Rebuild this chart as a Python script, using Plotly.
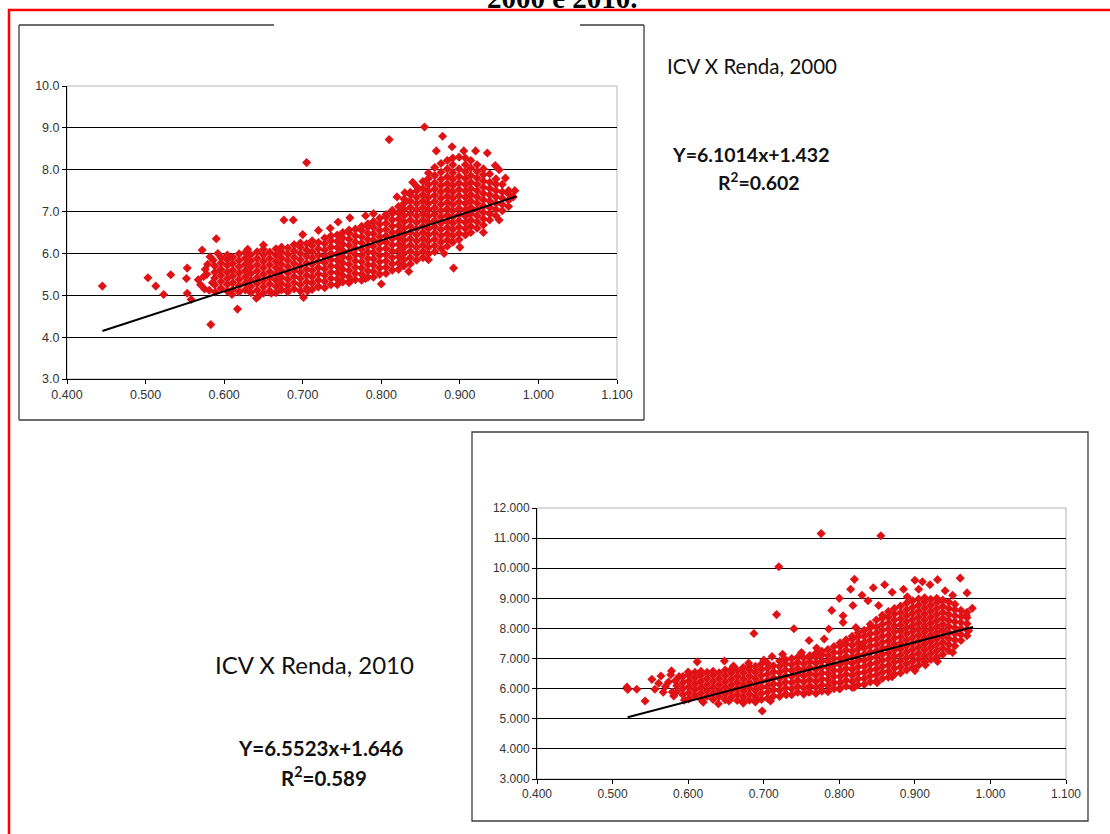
import plotly.graph_objects as go

W, H = 1110, 834

# ---------------- 2000 : ICV x Renda ----------------
x2000_cols = [0.588, 0.596, 0.604, 0.611, 0.619, 0.627, 0.634, 0.642, 0.650, 0.658,
              0.666, 0.673, 0.681, 0.689, 0.697, 0.705, 0.712, 0.720, 0.728, 0.736,
              0.744, 0.751, 0.759, 0.767, 0.775, 0.783, 0.790, 0.798, 0.806, 0.814,
              0.822, 0.829, 0.837, 0.845, 0.853, 0.860, 0.868, 0.876, 0.884, 0.891,
              0.899, 0.907, 0.914, 0.922, 0.930, 0.938, 0.946, 0.954, 0.962]
y2000_cols = [
    [5.25, 5.41, 5.55, 5.70],
    [5.17, 5.33, 5.48, 5.62, 5.77, 5.90],
    [5.10, 5.26, 5.40, 5.55, 5.71, 5.85, 5.96],
    [5.14, 5.30, 5.46, 5.60, 5.76, 5.91],
    [5.08, 5.23, 5.38, 5.53, 5.68, 5.83, 5.99],
    [5.13, 5.29, 5.44, 5.59, 5.74, 5.89, 6.02],
    [5.06, 5.21, 5.36, 5.52, 5.67, 5.82, 5.97],
    [5.12, 5.28, 5.43, 5.58, 5.73, 5.88, 6.04],
    [5.05, 5.20, 5.35, 5.50, 5.66, 5.81, 5.96, 6.10],
    [5.11, 5.27, 5.42, 5.57, 5.73, 5.88, 6.03],
    [5.06, 5.21, 5.36, 5.51, 5.66, 5.81, 5.96, 6.11],
    [5.13, 5.28, 5.43, 5.59, 5.74, 5.89, 6.04, 6.15],
    [5.08, 5.23, 5.38, 5.53, 5.68, 5.83, 5.98, 6.13],
    [5.15, 5.30, 5.45, 5.60, 5.76, 5.91, 6.06, 6.21],
    [5.10, 5.25, 5.40, 5.55, 5.70, 5.85, 6.00, 6.15, 6.25],
    [5.17, 5.32, 5.47, 5.62, 5.77, 5.93, 6.08, 6.23],
    [5.14, 5.29, 5.44, 5.59, 5.74, 5.89, 6.04, 6.19, 6.30],
    [5.21, 5.36, 5.51, 5.66, 5.81, 5.96, 6.11, 6.26],
    [5.18, 5.33, 5.48, 5.63, 5.78, 5.93, 6.08, 6.23, 6.37],
    [5.25, 5.40, 5.55, 5.70, 5.85, 6.00, 6.15, 6.30, 6.42],
    [5.25, 5.39, 5.54, 5.69, 5.84, 5.99, 6.14, 6.29, 6.44],
    [5.32, 5.47, 5.62, 5.77, 5.92, 6.07, 6.22, 6.37, 6.50],
    [5.30, 5.44, 5.59, 5.74, 5.89, 6.04, 6.19, 6.34, 6.49, 6.56],
    [5.37, 5.52, 5.67, 5.82, 5.97, 6.12, 6.27, 6.42, 6.58],
    [5.36, 5.50, 5.65, 5.80, 5.95, 6.10, 6.25, 6.40, 6.55, 6.65],
    [5.43, 5.58, 5.73, 5.88, 6.03, 6.18, 6.33, 6.48, 6.63, 6.71],
    [5.43, 5.57, 5.72, 5.87, 6.02, 6.17, 6.32, 6.47, 6.62, 6.76],
    [5.50, 5.65, 5.80, 5.95, 6.10, 6.25, 6.40, 6.55, 6.70, 6.84],
    [5.52, 5.67, 5.82, 5.97, 6.12, 6.27, 6.42, 6.57, 6.72, 6.87, 6.93],
    [5.60, 5.75, 5.90, 6.05, 6.20, 6.35, 6.50, 6.65, 6.80, 6.95, 7.03],
    [5.62, 5.77, 5.92, 6.07, 6.22, 6.37, 6.52, 6.67, 6.82, 6.97, 7.12],
    [5.70, 5.85, 6.00, 6.15, 6.30, 6.45, 6.60, 6.75, 6.90, 7.05, 7.20, 7.30],
    [5.75, 5.90, 6.05, 6.20, 6.35, 6.50, 6.65, 6.80, 6.95, 7.10, 7.25, 7.40, 7.46],
    [5.84, 5.99, 6.14, 6.29, 6.44, 6.59, 6.74, 6.89, 7.04, 7.19, 7.34, 7.49, 7.60],
    [5.90, 6.05, 6.20, 6.35, 6.50, 6.65, 6.80, 6.95, 7.10, 7.25, 7.40, 7.55, 7.72],
    [5.99, 6.14, 6.29, 6.44, 6.59, 6.74, 6.89, 7.04, 7.19, 7.34, 7.49, 7.64, 7.79, 7.92],
    [6.04, 6.19, 6.34, 6.49, 6.64, 6.79, 6.94, 7.09, 7.24, 7.39, 7.54, 7.69, 7.86, 8.05],
    [6.12, 6.27, 6.42, 6.57, 6.72, 6.87, 7.02, 7.17, 7.32, 7.47, 7.62, 7.77, 7.94, 8.15],
    [6.17, 6.32, 6.47, 6.62, 6.77, 6.92, 7.07, 7.22, 7.37, 7.52, 7.67, 7.83, 8.02, 8.22],
    [6.27, 6.42, 6.57, 6.72, 6.87, 7.02, 7.17, 7.32, 7.47, 7.62, 7.77, 7.93, 8.12, 8.28],
    [6.33, 6.48, 6.63, 6.78, 6.93, 7.08, 7.23, 7.38, 7.53, 7.68, 7.84, 8.02, 8.30],
    [6.44, 6.59, 6.74, 6.89, 7.04, 7.19, 7.34, 7.49, 7.64, 7.79, 7.95, 8.12, 8.28],
    [6.50, 6.65, 6.80, 6.95, 7.10, 7.25, 7.40, 7.55, 7.70, 7.86, 8.04, 8.22],
    [6.60, 6.75, 6.90, 7.05, 7.20, 7.35, 7.50, 7.65, 7.80, 7.96, 8.12],
    [6.68, 6.83, 6.98, 7.13, 7.28, 7.43, 7.58, 7.73, 7.88, 8.02],
    [6.80, 6.95, 7.10, 7.25, 7.40, 7.55, 7.70, 7.90],
    [6.90, 7.05, 7.20, 7.35, 7.50, 7.65, 7.78],
    [7.02, 7.17, 7.32, 7.47, 7.65],
    [7.12, 7.27, 7.42, 7.50],
]
x2000_out = [0.445, 0.503, 0.513, 0.523, 0.532, 0.552, 0.553, 0.553, 0.558, 0.567,
             0.570, 0.572, 0.575, 0.579, 0.583, 0.585, 0.590, 0.595, 0.617, 0.610,
             0.641, 0.644, 0.630, 0.676, 0.688, 0.701, 0.706, 0.705, 0.720, 0.745,
             0.760, 0.800, 0.810, 0.835, 0.855, 0.878, 0.892, 0.870, 0.890, 0.905,
             0.920, 0.935, 0.945, 0.950, 0.958, 0.968, 0.970, 0.840, 0.830, 0.820,
             0.790, 0.780, 0.860, 0.880, 0.900, 0.930, 0.950, 0.660, 0.680, 0.720,
             0.760, 0.780, 0.650, 0.700, 0.735, 0.578, 0.582, 0.576, 0.581, 0.586,
             0.574, 0.589, 0.592]
y2000_out = [5.22, 5.42, 5.22, 5.02, 5.49, 5.40, 5.65, 5.05, 4.90, 5.37,
             5.25, 6.08, 5.15, 5.74, 4.30, 5.30, 6.35, 5.60, 4.67, 5.02,
             4.93, 4.98, 6.10, 6.80, 6.80, 4.95, 5.10, 8.17, 6.55, 6.75,
             6.85, 5.27, 8.72, 5.57, 9.02, 8.80, 5.65, 8.45, 8.55, 8.45,
             8.45, 8.40, 8.10, 8.00, 7.80, 7.35, 7.50, 7.70, 7.45, 7.35,
             6.95, 6.90, 5.85, 6.00, 6.15, 6.50, 6.80, 5.05, 5.12, 5.20,
             5.35, 5.40, 6.20, 6.45, 6.60, 5.50, 5.92, 5.62, 5.12, 5.84,
             5.45, 5.08, 6.00]
slope2000, icpt2000 = 6.1014, 1.432
trend2000_x = [0.445, 0.972]

# ---------------- 2010 ----------------
x2010_cols = [0.585, 0.593, 0.601, 0.609, 0.617, 0.625, 0.633, 0.641, 0.649, 0.657,
              0.665, 0.673, 0.681, 0.689, 0.697, 0.705, 0.713, 0.721, 0.729, 0.737,
              0.745, 0.753, 0.761, 0.769, 0.777, 0.785, 0.793, 0.801, 0.809, 0.817,
              0.825, 0.833, 0.841, 0.849, 0.857, 0.865, 0.873, 0.881, 0.889, 0.897,
              0.905, 0.913, 0.921, 0.929, 0.937, 0.945, 0.953, 0.961, 0.969]
y2010_cols = [
    [5.90, 6.10],
    [5.80, 6.00, 6.20, 6.40],
    [5.66, 5.86, 6.06, 6.26, 6.45],
    [5.76, 5.96, 6.16, 6.36, 6.54],
    [5.65, 5.85, 6.05, 6.25, 6.45, 6.58],
    [5.74, 5.94, 6.14, 6.34, 6.54],
    [5.64, 5.84, 6.04, 6.24, 6.44, 6.58],
    [5.73, 5.93, 6.13, 6.33, 6.53],
    [5.63, 5.83, 6.03, 6.23, 6.43, 6.62],
    [5.72, 5.92, 6.12, 6.32, 6.52, 6.64],
    [5.61, 5.81, 6.01, 6.21, 6.41, 6.61],
    [5.56, 5.72, 5.92, 6.12, 6.32, 6.52, 6.70],
    [5.62, 5.82, 6.02, 6.22, 6.42, 6.62, 6.74],
    [5.56, 5.74, 5.94, 6.14, 6.34, 6.54, 6.74],
    [5.64, 5.84, 6.04, 6.24, 6.44, 6.64, 6.82],
    [5.68, 5.88, 6.08, 6.28, 6.48, 6.68, 6.85],
    [5.76, 5.96, 6.16, 6.36, 6.56, 6.76],
    [5.74, 5.94, 6.14, 6.34, 6.54, 6.74, 6.92],
    [5.82, 6.02, 6.22, 6.42, 6.62, 6.82, 6.96],
    [5.80, 6.00, 6.20, 6.40, 6.60, 6.80, 7.00],
    [5.88, 6.08, 6.28, 6.48, 6.68, 6.88, 7.04],
    [5.82, 6.02, 6.22, 6.42, 6.62, 6.82, 7.02],
    [5.90, 6.10, 6.30, 6.50, 6.70, 6.90, 7.10],
    [5.84, 6.04, 6.24, 6.44, 6.64, 6.84, 7.04, 7.18],
    [5.92, 6.12, 6.32, 6.52, 6.72, 6.92, 7.12, 7.24],
    [5.90, 6.10, 6.30, 6.50, 6.70, 6.90, 7.10, 7.30],
    [6.00, 6.20, 6.40, 6.60, 6.80, 7.00, 7.20, 7.40],
    [6.00, 6.20, 6.40, 6.60, 6.80, 7.00, 7.20, 7.40, 7.52],
    [6.08, 6.28, 6.48, 6.68, 6.88, 7.08, 7.28, 7.48, 7.62],
    [6.04, 6.24, 6.44, 6.64, 6.84, 7.04, 7.24, 7.44, 7.64, 7.74],
    [6.12, 6.32, 6.52, 6.72, 6.92, 7.12, 7.32, 7.52, 7.72, 7.86],
    [6.14, 6.34, 6.54, 6.74, 6.94, 7.14, 7.34, 7.54, 7.74, 7.94],
    [6.22, 6.42, 6.62, 6.82, 7.02, 7.22, 7.42, 7.62, 7.82, 8.02, 8.14],
    [6.25, 6.45, 6.65, 6.85, 7.05, 7.25, 7.45, 7.65, 7.85, 8.05, 8.28],
    [6.34, 6.54, 6.74, 6.94, 7.14, 7.34, 7.54, 7.74, 7.94, 8.14, 8.34, 8.44],
    [6.38, 6.58, 6.78, 6.98, 7.18, 7.38, 7.58, 7.78, 7.98, 8.18, 8.38, 8.56],
    [6.48, 6.68, 6.88, 7.08, 7.28, 7.48, 7.68, 7.88, 8.08, 8.28, 8.48, 8.66],
    [6.52, 6.72, 6.92, 7.12, 7.32, 7.52, 7.72, 7.92, 8.12, 8.32, 8.52, 8.74],
    [6.62, 6.82, 7.02, 7.22, 7.42, 7.62, 7.82, 8.02, 8.22, 8.42, 8.62, 8.84],
    [6.70, 6.90, 7.10, 7.30, 7.50, 7.70, 7.90, 8.10, 8.30, 8.50, 8.70, 8.92],
    [6.78, 6.98, 7.18, 7.38, 7.58, 7.78, 7.98, 8.18, 8.38, 8.58, 8.78, 8.98],
    [6.88, 7.08, 7.28, 7.48, 7.68, 7.88, 8.08, 8.28, 8.48, 8.68, 8.88, 9.02],
    [6.97, 7.17, 7.37, 7.57, 7.77, 7.97, 8.17, 8.37, 8.57, 8.77, 8.97],
    [7.06, 7.26, 7.46, 7.66, 7.86, 8.06, 8.26, 8.46, 8.66, 8.86, 9.00],
    [7.14, 7.34, 7.54, 7.74, 7.94, 8.14, 8.34, 8.54, 8.74, 8.94],
    [7.26, 7.46, 7.66, 7.86, 8.06, 8.26, 8.46, 8.66, 8.88],
    [7.42, 7.62, 7.82, 8.02, 8.22, 8.42, 8.62, 8.80],
    [7.60, 7.80, 8.00, 8.20, 8.40, 8.60],
    [7.76, 7.96, 8.16, 8.36, 8.54],
]
x2010_out = [0.519, 0.520, 0.532, 0.543, 0.552, 0.556, 0.564, 0.570, 0.578, 0.579,
             0.588, 0.595, 0.612, 0.648, 0.654, 0.673, 0.687, 0.698, 0.709, 0.711,
             0.717, 0.725, 0.740, 0.720, 0.776, 0.855, 0.786, 0.805, 0.805, 0.818,
             0.822, 0.838, 0.852, 0.830, 0.914, 0.976, 0.968, 0.971, 0.960, 0.900,
             0.910, 0.920, 0.930, 0.885, 0.870, 0.860, 0.820, 0.815, 0.830, 0.845,
             0.940, 0.950, 0.905, 0.890, 0.800, 0.790, 0.760, 0.770, 0.780, 0.750,
             0.680, 0.700, 0.660, 0.620, 0.640, 0.690, 0.730, 0.760, 0.800, 0.820,
             0.850, 0.870, 0.900, 0.930, 0.950, 0.600, 0.969, 0.574, 0.581, 0.577,
             0.567, 0.583, 0.561]
y2010_out = [6.05, 5.97, 5.98, 5.59, 6.31, 5.98, 6.42, 6.07, 6.59, 5.89,
             6.40, 5.62, 6.89, 6.92, 5.59, 5.52, 7.83, 5.26, 5.59, 7.07,
             8.46, 7.14, 7.99, 10.05, 11.15, 11.08, 7.98, 8.42, 8.20, 8.76,
             8.03, 8.92, 8.76, 7.42, 6.79, 8.67, 8.44, 7.92, 9.67, 9.60,
             9.55, 9.45, 9.62, 9.30, 9.20, 9.45, 9.63, 9.30, 9.10, 9.35,
             9.25, 9.10, 9.30, 9.05, 9.00, 8.60, 7.60, 7.35, 7.65, 7.20,
             6.85, 6.95, 6.75, 5.55, 5.50, 5.65, 5.80, 5.88, 6.00, 6.05,
             6.20, 6.40, 6.60, 6.90, 7.20, 6.55, 9.18, 6.22, 5.76, 6.46,
             5.88, 6.26, 6.18]
slope2010, icpt2010 = 6.5523, 1.646
trend2010_x = [0.520, 0.977]


def flat(xc, yc, xo, yo):
    xs, ys = [], []
    for x, col in zip(xc, yc):
        for y in col:
            xs.append(x)
            ys.append(y)
    return xs + list(xo), ys + list(yo)


def px(v):
    return v / W


def py(v):
    return 1 - v / H


RED = "rgb(224,18,22)"
MS = 7
fig = go.Figure()

xs, ys = flat(x2000_cols, y2000_cols, x2000_out, y2000_out)
fig.add_trace(go.Scatter(x=xs, y=ys, mode="markers", xaxis="x", yaxis="y",
                         marker=dict(symbol="diamond", size=MS, color=RED, line=dict(width=0))))
fig.add_trace(go.Scatter(x=trend2000_x, y=[slope2000 * v + icpt2000 for v in trend2000_x],
                         mode="lines", xaxis="x", yaxis="y", line=dict(color="black", width=2)))

xs, ys = flat(x2010_cols, y2010_cols, x2010_out, y2010_out)
fig.add_trace(go.Scatter(x=xs, y=ys, mode="markers", xaxis="x2", yaxis="y2",
                         marker=dict(symbol="diamond", size=MS, color=RED, line=dict(width=0))))
fig.add_trace(go.Scatter(x=trend2010_x, y=[slope2010 * v + icpt2010 for v in trend2010_x],
                         mode="lines", xaxis="x2", yaxis="y2", line=dict(color="black", width=2)))


def tfont(s):
    return dict(family="Liberation Sans, Arial, sans-serif", size=s, color="#333333")


common_x = dict(range=[0.4, 1.1], tick0=0.4, dtick=0.1, tickformat=".3f", showgrid=False,
                zeroline=False, showline=True, linecolor="black", linewidth=1,
                ticks="outside", ticklen=4, tickcolor="black")
common_y = dict(dtick=1, showgrid=True, gridcolor="black", gridwidth=1, zeroline=False,
                showline=True, linecolor="black", linewidth=1, ticks="outside", ticklen=4,
                tickcolor="black")

fig.update_layout(
    width=W, height=H, margin=dict(l=0, r=0, t=0, b=0, autoexpand=False),
    paper_bgcolor="white", plot_bgcolor="white", showlegend=False,
    xaxis=dict(domain=[px(67), px(617)], anchor="y", tickfont=tfont(12.5), **common_x),
    yaxis=dict(domain=[py(379), py(86)], anchor="x", range=[3, 10], tick0=3,
               tickformat=".1f", tickfont=tfont(12.5), **common_y),
    xaxis2=dict(domain=[px(537), px(1066)], anchor="y2", tickfont=tfont(12), **common_x),
    yaxis2=dict(domain=[py(779), py(508)], anchor="x2", range=[3, 12], tick0=3,
                tickformat=".3f", tickfont=tfont(12), **common_y),
)

shapes = []
# plot-area borders (light grey, Excel style)
for xr, yr in (("x domain", "y domain"), ("x2 domain", "y2 domain")):
    shapes.append(dict(type="rect", xref=xr, yref=yr, x0=0, x1=1, y0=0, y1=1,
                       line=dict(color="#b4b4b4", width=1), layer="below"))
BOX = dict(color="#3c3c3c", width=1.3)
# top chart frame (top edge interrupted)
for (x0, y0, x1, y1) in ((19, 25, 19, 420), (19, 420, 644, 420), (644, 25, 644, 420),
                         (19, 25, 274, 25), (580, 25, 644, 25)):
    shapes.append(dict(type="line", xref="paper", yref="paper", x0=px(x0), y0=py(y0),
                       x1=px(x1), y1=py(y1), line=BOX))
# bottom chart frame
shapes.append(dict(type="rect", xref="paper", yref="paper", x0=px(472), x1=px(1088),
                   y0=py(821), y1=py(432), line=BOX))
# red page border
shapes.append(dict(type="rect", xref="paper", yref="paper", x0=px(9), x1=px(1125),
                   y0=py(850), y1=py(10), line=dict(color="#ff0000", width=2.5)))
fig.update_layout(shapes=shapes)

TXT = "Lato, Calibri, sans-serif"
ann = [
    dict(text="<b>2000 e 2010.</b>", x=px(562), y=py(-2), xanchor="center", yanchor="middle",
         font=dict(family="Liberation Serif, Times New Roman, serif", size=29, color="black")),
    dict(text="ICV X Renda, 2000", x=px(665), y=py(66), xanchor="left", yanchor="middle",
         font=dict(family=TXT, size=20.5, color="#111111")),
    dict(text="<b>Y=6.1014x+1.432</b>", x=px(751), y=py(155), xanchor="center", yanchor="middle",
         font=dict(family=TXT, size=19.5, color="#111111")),
    dict(text="<b>R<sup>2</sup>=0.602</b>", x=px(759), y=py(182), xanchor="center", yanchor="middle",
         font=dict(family=TXT, size=19.5, color="#111111")),
    dict(text="ICV X Renda, 2010", x=px(213), y=py(664), xanchor="left", yanchor="middle",
         font=dict(family=TXT, size=24, color="#111111")),
    dict(text="<b>Y=6.5523x+1.646</b>", x=px(321), y=py(748), xanchor="center", yanchor="middle",
         font=dict(family=TXT, size=20.5, color="#111111")),
    dict(text="<b>R<sup>2</sup>=0.589</b>", x=px(324), y=py(776), xanchor="center", yanchor="middle",
         font=dict(family=TXT, size=20.5, color="#111111")),
]
for a in ann:
    a.update(xref="paper", yref="paper", showarrow=False)
fig.update_layout(annotations=ann)

fig.write_html("out.html")
